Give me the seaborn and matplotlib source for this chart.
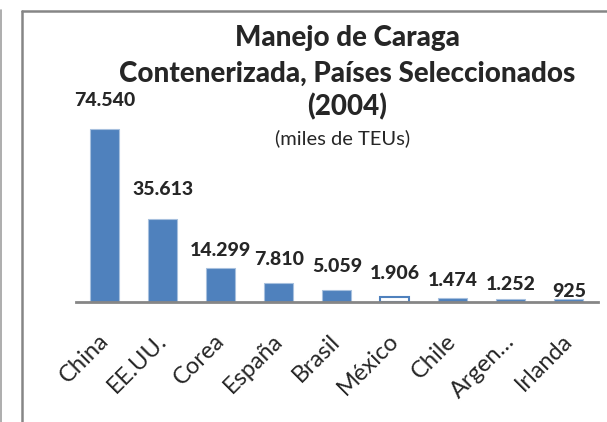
import matplotlib
matplotlib.use("Agg")
import matplotlib.pyplot as plt
import seaborn as sns
import pandas as pd
from matplotlib.lines import Line2D

# --- Data ---
paises = ['China', 'EE.UU.', 'Corea', 'España', 'Brasil', 'México', 'Chile', 'Argen…', 'Irlanda']
teus = [74540, 35613, 14299, 7810, 5059, 1906, 1474, 1252, 925]
etiquetas = ['74.540', '35.613', '14.299', '7.810', '5.059', '1.906', '1.474', '1.252', '925']

# label gap above bar top (pixels), labels were hand-placed in the original
label_gap = [28, 29, 18, 24, 23, 24, 18, 14, 8]

df = pd.DataFrame({'pais': paises, 'teus': teus})

sns.set_style('white')
plt.rcParams['font.family'] = ['Lato', 'DejaVu Sans']

BLUE = '#4F81BD'
GRAY = '#868686'

fig = plt.figure(figsize=(6.07, 4.22), dpi=100)
ax = fig.add_axes([0.125, 0.2855, 0.86, 0.594])

sns.barplot(data=df, x='pais', y='teus', color=BLUE, width=0.5, ax=ax,
            saturation=1, edgecolor='#A7C0DE', linewidth=0.8)

# México drawn hollow
mex = ax.patches[paises.index('México')]
mex.set_facecolor('white')
mex.set_edgecolor(BLUE)
mex.set_linewidth(1.5)

ax.set_ylim(0, 108000)
ax.set_xlim(-0.5, len(paises) - 0.5)
ax.set_xlabel('')
ax.set_ylabel('')
ax.set_yticks([])
for s in ['top', 'right', 'left']:
    ax.spines[s].set_visible(False)
ax.spines['bottom'].set_color(GRAY)
ax.spines['bottom'].set_linewidth(2)
ax.tick_params(axis='x', length=0, pad=26, labelsize=17)
plt.setp(ax.get_xticklabels(), rotation=45, ha='right', va='center',
         rotation_mode='anchor')

for i, (v, t) in enumerate(zip(teus, etiquetas)):
    ax.annotate(t, (i, v), xytext=(0, label_gap[i]), textcoords='offset pixels',
                ha='center', va='center', fontsize=14, fontweight='black')

# Title block
fig.text(0.572, 0.91, 'Manejo de Caraga', ha='center', va='center',
         fontsize=20, fontweight='black')
fig.text(0.572, 0.825, 'Contenerizada, Países Seleccionados', ha='center', va='center',
         fontsize=20, fontweight='black')
fig.text(0.572, 0.746, '(2004)', ha='center', va='center',
         fontsize=20, fontweight='black')
fig.text(0.564, 0.673, '(miles de TEUs)', ha='center', va='center', fontsize=14.5)

# chart frame (only left and top visible) and outer left rule
fig.add_artist(Line2D([22 / 607, 22 / 607], [0, 1 - 11 / 422], color=GRAY, lw=1.8))
fig.add_artist(Line2D([22 / 607, 1], [1 - 11 / 422, 1 - 11 / 422], color=GRAY, lw=1.8))
fig.add_artist(Line2D([1.5 / 607, 1.5 / 607], [0, 1 - 10 / 422], color='#A0A0A0', lw=1.2))

fig.savefig('out.png', dpi=100)
